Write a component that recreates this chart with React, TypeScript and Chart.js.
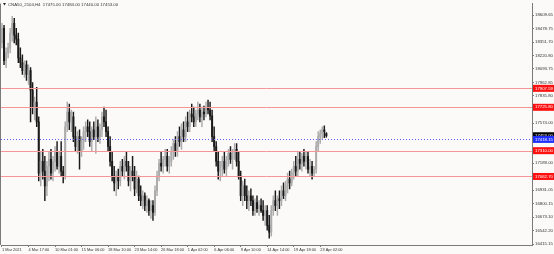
import React, { useEffect, useRef } from "react";
import { Chart, registerables } from "chart.js";
Chart.register(...registerables);

const chartTitle = "CNA50_2104,H4  17475.00 17484.00 17440.00 17453.00";

const openP = [
  18342, 18484, 18172, 18248, 18295, 18437, 18531, 18418, 18380, 18200,
  18153, 18078, 18134, 18040, 18078, 17889, 17728, 17775, 17586, 17095,
  17208, 17114, 16972, 17161, 17227, 17095, 17208, 17303, 17161, 17256,
  17114, 17067, 17539, 17681, 17586, 17634, 17445, 17350, 17445, 17303,
  17397, 17492, 17539, 17492, 17397, 17511, 17445, 17539, 17445, 17511,
  17634, 17586, 17492, 17350, 17208, 17067, 17001, 17067, 17019, 17161,
  17114, 17208, 17161, 17019, 17114, 17067, 16944, 17038, 16878, 16831,
  16878, 16783, 16831, 16736, 16783, 16717, 16925, 17067, 17189, 17161,
  17227, 17256, 17161, 17208, 17303, 17379, 17303, 17445, 17397, 17511,
  17445, 17586, 17539, 17662, 17634, 17586, 17662, 17700, 17634, 17681,
  17662, 17719, 17700, 17643, 17445, 17350, 17208, 17114, 17161, 17208,
  17133, 17227, 17284, 17227, 17303, 17322, 17208, 17067, 16878, 16972,
  16878, 16831, 16878, 16831, 16736, 16812, 16755, 16783, 16736, 16689,
  16736, 16594, 16528, 16736, 16831, 16783, 16849, 16831, 16925, 16878,
  16972, 17038, 17001, 17095, 17161, 17114, 17227, 17189, 17256, 17208,
  17256, 17133, 17161, 17095, 17133, 17350, 17445, 17473, 17511, 17475,
];

const highP = [
  18531, 18512, 18295, 18342, 18484, 18597, 18578, 18484, 18437, 18295,
  18229, 18172, 18172, 18134, 18106, 17964, 17823, 17917, 17634, 17303,
  17322, 17256, 17208, 17303, 17322, 17256, 17350, 17397, 17303, 17397,
  17161, 17586, 17775, 17756, 17700, 17681, 17539, 17492, 17511, 17445,
  17539, 17586, 17605, 17586, 17539, 17586, 17634, 17605, 17567, 17681,
  17728, 17700, 17539, 17445, 17303, 17161, 17114, 17133, 17208, 17227,
  17256, 17303, 17208, 17161, 17256, 17161, 17114, 17067, 16972, 16925,
  16906, 16878, 16849, 16831, 16831, 16972, 17114, 17227, 17303, 17256,
  17322, 17322, 17256, 17350, 17416, 17445, 17492, 17539, 17567, 17586,
  17634, 17681, 17700, 17756, 17728, 17700, 17775, 17756, 17728, 17738,
  17775, 17794, 17775, 17700, 17539, 17397, 17303, 17208, 17256, 17303,
  17256, 17322, 17350, 17322, 17379, 17379, 17303, 17114, 17019, 17038,
  16972, 16925, 16944, 16878, 16849, 16878, 16831, 16849, 16831, 16783,
  16783, 16689, 16783, 16878, 16925, 16878, 16925, 16972, 17001, 17019,
  17095, 17114, 17133, 17208, 17256, 17303, 17303, 17284, 17322, 17303,
  17303, 17227, 17208, 17161, 17397, 17492, 17511, 17539, 17549, 17484,
];

const lowP = [
  18295, 18134, 18106, 18200, 18248, 18361, 18342, 18323, 18153, 18106,
  18040, 18012, 17983, 17945, 17586, 17662, 17605, 17539, 17019, 16972,
  17038, 16831, 16878, 17019, 17038, 17019, 17114, 17133, 17095, 17067,
  17001, 17038, 17492, 17511, 17492, 17397, 17303, 17284, 17133, 17256,
  17322, 17397, 17445, 17350, 17303, 17416, 17284, 17397, 17379, 17445,
  17539, 17445, 17303, 17161, 17019, 16925, 16878, 16944, 16972, 17067,
  17038, 17114, 16972, 16925, 17019, 16878, 16906, 16831, 16783, 16755,
  16736, 16717, 16689, 16660, 16642, 16689, 16878, 17019, 17114, 17095,
  17161, 17114, 17095, 17161, 17227, 17256, 17256, 17350, 17322, 17397,
  17397, 17492, 17492, 17586, 17539, 17539, 17605, 17586, 17539, 17605,
  17634, 17662, 17605, 17397, 17303, 17161, 17038, 17019, 17067, 17095,
  17067, 17161, 17189, 17133, 17227, 17161, 17038, 16831, 16783, 16831,
  16755, 16736, 16783, 16689, 16689, 16717, 16689, 16717, 16642, 16594,
  16547, 16472, 16490, 16689, 16736, 16689, 16755, 16783, 16849, 16831,
  16906, 16944, 16972, 17038, 17067, 17067, 17133, 17114, 17161, 17133,
  17095, 17067, 17038, 17067, 17095, 17303, 17379, 17416, 17435, 17440,
];

const closeP = [
  18484, 18172, 18248, 18295, 18437, 18531, 18418, 18380, 18200, 18153,
  18078, 18134, 18040, 18078, 17889, 17728, 17775, 17586, 17095, 17208,
  17114, 16972, 17161, 17227, 17095, 17208, 17303, 17161, 17256, 17114,
  17067, 17539, 17681, 17586, 17634, 17445, 17350, 17445, 17303, 17397,
  17492, 17539, 17492, 17397, 17511, 17445, 17539, 17445, 17511, 17634,
  17586, 17492, 17350, 17208, 17067, 17001, 17067, 17019, 17161, 17114,
  17208, 17161, 17019, 17114, 17067, 16944, 17038, 16878, 16831, 16878,
  16783, 16831, 16736, 16783, 16717, 16925, 17067, 17189, 17161, 17227,
  17256, 17161, 17208, 17303, 17379, 17303, 17445, 17397, 17511, 17445,
  17586, 17539, 17662, 17634, 17586, 17662, 17700, 17634, 17681, 17662,
  17719, 17700, 17643, 17445, 17350, 17208, 17114, 17161, 17208, 17133,
  17227, 17284, 17227, 17303, 17322, 17208, 17067, 16878, 16972, 16878,
  16831, 16878, 16831, 16736, 16812, 16755, 16783, 16736, 16689, 16736,
  16594, 16528, 16736, 16831, 16783, 16849, 16831, 16925, 16878, 16972,
  17038, 17001, 17095, 17161, 17114, 17227, 17189, 17256, 17208, 17256,
  17133, 17161, 17095, 17133, 17350, 17445, 17473, 17511, 17492, 17453,
];

const xTickLabels = [
  "1 Mar 2021", "4 Mar 17:00", "10 Mar 01:00", "15 Mar 06:00", "18 Mar 10:00",
  "23 Mar 14:00", "26 Mar 18:00", "1 Apr 02:00", "6 Apr 06:00", "9 Apr 10:00",
  "14 Apr 14:00", "19 Apr 18:00", "23 Apr 02:00",
];
const barsPerTimeLabel = 13;
const visibleBars = 260;

const yTickValues = [
  18609.65, 18478.75, 18351.7, 18220.8, 18093.75, 17962.85, 17835.8, 17574.0,
  17189.0, 16931.05, 16800.15, 16673.1, 16542.2, 16415.15,
];
const yMin = 16405.7;
const yMax = 18720.2;

const redLevels = [17907.59, 17725.8, 17310.0, 17062.7];
const blueLevel = 17418.15;
const lastPrice = 17453.0;

const UP = "#ababab";
const DOWN = "#1a1a1a";
const BG = "#fcfaf9";
const FONT = '"Liberation Sans", Arial, sans-serif';

export default function App() {
  const ref = useRef<HTMLCanvasElement | null>(null);

  useEffect(() => {
    document.body.style.margin = "0";
    const canvas = ref.current;
    if (!canvas) return;
    const isUp = (i: number) => closeP[i] >= openP[i];
    const wickData = closeP.map((_, i) => ({ x: i, y: [lowP[i], highP[i]] }));
    const bodyData = closeP.map((_, i) => ({ x: i, y: [openP[i], closeP[i]] }));

    const overlay = {
      id: "mtOverlay",
      beforeDraw(chart: any) {
        const { ctx } = chart;
        ctx.save();
        ctx.fillStyle = BG;
        ctx.fillRect(0, 0, chart.width, chart.height);
        ctx.restore();
      },
      afterDatasetsDraw(chart: any) {
        const { ctx, chartArea } = chart;
        const ys = chart.scales.y;
        ctx.save();
        ctx.lineWidth = 1;
        ctx.strokeStyle = "#f59595";
        redLevels.forEach((v) => {
          const y = Math.round(ys.getPixelForValue(v)) + 0.5;
          ctx.beginPath();
          ctx.moveTo(chartArea.left, y);
          ctx.lineTo(chartArea.right, y);
          ctx.stroke();
        });
        ctx.strokeStyle = "#5a5aff";
        ctx.setLineDash([1, 2]);
        const by = Math.round(ys.getPixelForValue(blueLevel)) + 0.5;
        ctx.beginPath();
        ctx.moveTo(chartArea.left, by);
        ctx.lineTo(chartArea.right, by);
        ctx.stroke();
        ctx.restore();
      },
      afterDraw(chart: any) {
        const { ctx, chartArea } = chart;
        const ys = chart.scales.y;
        ctx.save();
        ctx.strokeStyle = "#7a7a7a";
        ctx.lineWidth = 1;
        ctx.beginPath();
        ctx.moveTo(chartArea.left - 0.5, chartArea.top);
        ctx.lineTo(chartArea.left - 0.5, chartArea.bottom);
        ctx.stroke();
        const box = (v: number, color: string) => {
          const y = ys.getPixelForValue(v);
          ctx.fillStyle = color;
          ctx.fillRect(chartArea.right + 1, y - 3.5, 22, 7);
          ctx.fillStyle = "#ffffff";
          ctx.font = `4.3px ${FONT}`;
          ctx.textBaseline = "middle";
          ctx.textAlign = "left";
          ctx.fillText(v.toFixed(2), chartArea.right + 3, y);
        };
        redLevels.forEach((v) => box(v, "#ff1010"));
        box(lastPrice, "#000000");
        box(blueLevel, "#1f2fff");
        ctx.fillStyle = "#222";
        ctx.beginPath();
        ctx.moveTo(3, 3);
        ctx.lineTo(6, 3);
        ctx.lineTo(4.5, 5.5);
        ctx.closePath();
        ctx.fill();
        ctx.fillStyle = "#333";
        ctx.font = `4.3px ${FONT}`;
        ctx.textBaseline = "middle";
        ctx.textAlign = "left";
        ctx.fillText(chartTitle, 8, 4.5);
        ctx.restore();
      },
    };

    const chart = new Chart(canvas, {
      type: "bar",
      data: {
        datasets: [
          {
            data: wickData as any,
            backgroundColor: (c: any) => (isUp(c.dataIndex) ? UP : DOWN),
            barThickness: 0.8,
            grouped: false,
            order: 2,
          } as any,
          {
            data: bodyData as any,
            backgroundColor: (c: any) => (isUp(c.dataIndex) ? UP : DOWN),
            barThickness: 1.3,
            grouped: false,
            minBarLength: 1,
            order: 1,
          } as any,
        ],
      },
      options: {
        responsive: false,
        animation: false,
        devicePixelRatio: 1,
        layout: { padding: { left: 1, top: 0, right: 0, bottom: 0 } },
        plugins: { legend: { display: false }, tooltip: { enabled: false } },
        scales: {
          x: {
            type: "linear",
            min: -0.49,
            max: visibleBars - 0.2,
            offset: false,
            grid: { display: true, drawOnChartArea: false, drawTicks: true, tickLength: 2, color: "#7a7a7a", offset: false },
            border: { display: true, color: "#7a7a7a" },
            ticks: {
              autoSkip: false,
              maxRotation: 0,
              align: "start",
              padding: 1,
              color: "#333",
              font: { size: 3.9, family: FONT },
              callback: (v: any) => xTickLabels[Math.round(Number(v) / barsPerTimeLabel)] ?? "",
            },
            afterBuildTicks: (s: any) => {
              s.ticks = xTickLabels.map((_, k) => ({ value: k * barsPerTimeLabel }));
            },
            afterFit: (s: any) => {
              s.height = 9;
            },
          } as any,
          y: {
            type: "linear",
            position: "right",
            min: yMin,
            max: yMax,
            grid: { display: true, drawOnChartArea: false, drawTicks: true, tickLength: 2, color: "#7a7a7a" },
            border: { display: true, color: "#7a7a7a" },
            ticks: {
              autoSkip: false,
              padding: 1,
              color: "#333",
              font: { size: 4.3, family: FONT },
              callback: (v: any) => Number(v).toFixed(2),
            },
            afterBuildTicks: (s: any) => {
              s.ticks = yTickValues.map((v) => ({ value: v }));
            },
            afterFit: (s: any) => {
              s.width = 22;
            },
          } as any,
        },
      },
      plugins: [overlay],
    });
    return () => chart.destroy();
  }, []);

  return <canvas ref={ref} width={554} height={254} style={{ display: "block" }} />;
}
